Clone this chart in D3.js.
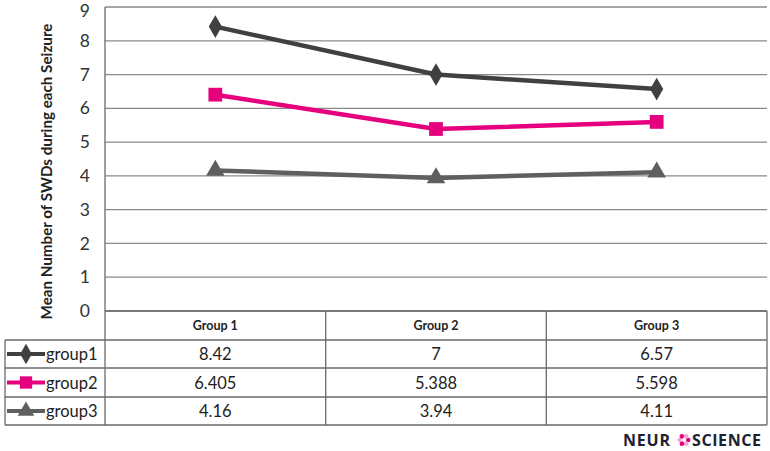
<!DOCTYPE html>
<html><head><meta charset="utf-8">
<script src="https://cdn.jsdelivr.net/npm/d3@7/dist/d3.min.js"></script>
<style>body{margin:0;background:#fff}svg{display:block}</style>
</head><body><div id="chart"></div>
<script>
const categories = ["Group 1", "Group 2", "Group 3"];
const seriesNames = ["group1", "group2", "group3"];
const group1 = [8.42, 7, 6.57];
const group2 = [6.405, 5.388, 5.598];
const group3 = [4.16, 3.94, 4.11];
const group1Labels = ["8.42", "7", "6.57"];
const group2Labels = ["6.405", "5.388", "5.598"];
const group3Labels = ["4.16", "3.94", "4.11"];
const yTicks = [0,1,2,3,4,5,6,7,8,9];
const yTitle = "Mean Number of SWDs during each Seizure";

(function(){
const W = 770, H = 451;
const svg = d3.select("#chart").append("svg").attr("width", W).attr("height", H);
const font = "Lato, 'Open Sans', sans-serif";

const pl = 105, pr = 767, pt = 7, pb = 311;
const x = d3.scaleBand().domain(categories).range([pl, pr]);
const y = d3.scaleLinear().domain([0, 9]).range([pb, pt]);

svg.append("g").selectAll("line").data(yTicks).join("line")
  .attr("x1", pl).attr("x2", pr)
  .attr("y1", d => y(d)).attr("y2", d => y(d))
  .attr("stroke", "#8a8a8a").attr("stroke-width", 1.3);

const yAxis = svg.append("g").attr("transform", `translate(${pl},0)`)
  .call(d3.axisLeft(y).tickValues(yTicks).tickSize(0).tickPadding(15).tickFormat(d3.format("d")));
yAxis.select(".domain").remove();
yAxis.selectAll("text").attr("font-family", font).attr("font-size", 17.5).attr("fill", "#333")
  .attr("dy", d => d === 9 ? "0.55em" : "0.32em");

svg.append("text").attr("transform", `translate(52,${(25+318)/2}) rotate(-90)`)
  .attr("text-anchor", "middle").attr("font-family", font).attr("font-weight", "bold")
  .attr("font-size", 15.2).attr("fill", "#222").text(yTitle);

const rowH = [311, 340, 368, 397, 425];
const tbl = svg.append("g");
const stroke = "#6a6a6a";
tbl.append("line").attr("x1", pl).attr("x2", pr).attr("y1", rowH[0]).attr("y2", rowH[0]).attr("stroke", stroke).attr("stroke-width", 1.3);
[1,2,3,4].forEach(i => tbl.append("line").attr("x1", 5).attr("x2", pr).attr("y1", rowH[i]).attr("y2", rowH[i]).attr("stroke", stroke).attr("stroke-width", 1.3));
const vx = [pl, ...categories.map(c => x(c) + x.bandwidth())];
vx.forEach(v => tbl.append("line").attr("x1", v).attr("x2", v).attr("y1", v === pl ? pt : rowH[0]).attr("y2", rowH[4]).attr("stroke", stroke).attr("stroke-width", 1.3));
tbl.append("line").attr("x1", 5).attr("x2", 5).attr("y1", rowH[1]).attr("y2", rowH[4]).attr("stroke", stroke).attr("stroke-width", 1.3);

tbl.selectAll("text.hdr").data(categories).join("text").attr("class", "hdr")
  .attr("x", d => x(d) + x.bandwidth()/2).attr("y", (rowH[0]+rowH[1])/2 + 4.5)
  .attr("text-anchor", "middle").attr("font-family", font).attr("font-weight", "bold")
  .attr("font-size", 12.5).attr("fill", "#222").text(d => d);

const series = [
  {name: seriesNames[0], vals: group1, labels: group1Labels, color: "#404040", shape: d3.symbolDiamond, size: 150},
  {name: seriesNames[1], vals: group2, labels: group2Labels, color: "#e6007e", shape: d3.symbolSquare, size: 190},
  {name: seriesNames[2], vals: group3, labels: group3Labels, color: "#5f5f5f", shape: d3.symbolTriangle, size: 150},
];

series.forEach((s, i) => {
  const ry = (rowH[i+1] + rowH[i+2]) / 2;
  tbl.selectAll(null).data(categories).join("text")
    .attr("x", d => x(d) + x.bandwidth()/2).attr("y", ry + 6)
    .attr("text-anchor", "middle").attr("font-family", font).attr("font-size", 16.5).attr("fill", "#222")
    .text((d, j) => s.labels[j]);
  tbl.append("line").attr("x1", 7).attr("x2", 45).attr("y1", ry).attr("y2", ry)
    .attr("stroke", s.color).attr("stroke-width", 4);
  tbl.append("path").attr("d", d3.symbol().type(s.shape).size(s.size*0.8)())
    .attr("transform", `translate(26,${ry})`).attr("fill", s.color);
  tbl.append("text").attr("x", 46).attr("y", ry + 6).attr("font-family", font)
    .attr("font-size", 16.5).attr("fill", "#222").text(s.name);

  const line = d3.line().x((d, j) => x(categories[j]) + x.bandwidth()/2).y(d => y(d));
  svg.append("path").datum(s.vals).attr("d", line).attr("fill", "none")
    .attr("stroke", s.color).attr("stroke-width", 4.5).attr("stroke-linejoin", "round");
  svg.selectAll(null).data(s.vals).join("path")
    .attr("d", d3.symbol().type(s.shape).size(s.size)())
    .attr("transform", (d, j) => `translate(${x(categories[j]) + x.bandwidth()/2},${y(d)})`)
    .attr("fill", s.color);
});

const logo = svg.append("g").attr("transform", "translate(623,446)");
logo.append("text").attr("x", 0).attr("y", 0).attr("font-family", "'Open Sans', sans-serif")
  .attr("font-weight", "bold").attr("font-size", 16).attr("fill", "#1e2230").attr("letter-spacing", 0.8)
  .text("NEUR");
const flower = logo.append("g").attr("transform", "translate(61,-6)");
d3.range(6).forEach(k => {
  const a = k * Math.PI / 3;
  flower.append("circle").attr("cx", 4.2*Math.cos(a)).attr("cy", 4.2*Math.sin(a)).attr("r", 2.3)
    .attr("fill", k % 2 ? "#f3a6cf" : "#e6007e");
});
logo.append("text").attr("x", 69).attr("y", 0).attr("font-family", "'Open Sans', sans-serif")
  .attr("font-weight", "bold").attr("font-size", 16).attr("fill", "#1e2230").attr("letter-spacing", 0.6)
  .text("SCIENCE");
})();
</script></body></html>
